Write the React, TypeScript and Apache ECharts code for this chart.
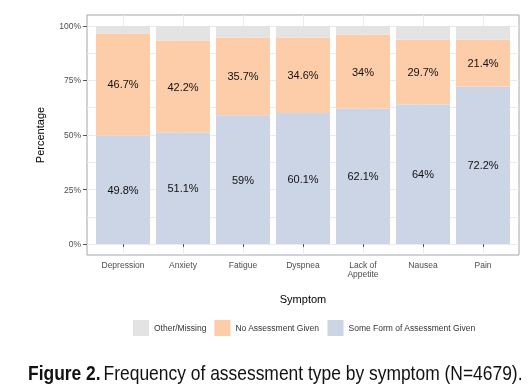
import React, { useEffect, useRef } from "react";
import * as echarts from "echarts";

const categories = ["Depression", "Anxiety", "Fatigue", "Dyspnea", "Lack of\nAppetite", "Nausea", "Pain"];
const someAssessment = [49.8, 51.1, 59, 60.1, 62.1, 64, 72.2];
const noAssessment = [46.7, 42.2, 35.7, 34.6, 34, 29.7, 21.4];
const otherMissing = [3.5, 6.7, 5.3, 5.3, 3.9, 6.3, 6.4];
const yTicks = [0, 0.25, 0.5, 0.75, 1];
const seriesNames = ["Other/Missing", "No Assessment Given", "Some Form of Assessment Given"];

const FONT = "'Liberation Sans', Arial, sans-serif";
const GRID_LINE = "#ebebeb";

export default function App() {
  const ref = useRef<HTMLDivElement>(null);
  useEffect(() => {
    document.body.style.margin = "0";
    const chart = echarts.init(ref.current!, null, { renderer: "svg" });
    const toData = (arr: number[]) => arr.map((v) => v / 100);
    const labelFor = (arr: number[]) => ({
      show: true,
      position: "inside",
      color: "#111",
      fontSize: 11,
      fontFamily: FONT,
      formatter: (p: any) => `${arr[p.dataIndex]}%`,
    });
    // panel: y from -0.05 to 1.05 over 240px starting at top 15
    const panelTop = 15;
    const panelH = 240;
    const unit = panelH / 1.1;
    chart.setOption({
      animation: false,
      grid: [
        { left: 93, top: panelTop, width: 420, height: panelH },
        {
          left: 87,
          top: panelTop,
          width: 432,
          height: panelH,
          show: true,
          borderColor: "#a6a6a6",
          borderWidth: 1,
          backgroundColor: "#fff",
          z: -2,
        },
        { left: 87, top: panelTop + 0.05 * unit, width: 432, height: unit },
        { left: 123, top: panelTop, width: 360, height: panelH },
      ],
      xAxis: [
        {
          type: "category",
          gridIndex: 0,
          data: categories,
          axisLine: { show: false },
          splitLine: { show: false },
          axisTick: { show: true, alignWithLabel: true, length: 3, lineStyle: { color: "#555" } },
          axisLabel: {
            color: "#4d4d4d",
            fontSize: 8.5,
            fontFamily: FONT,
            lineHeight: 9,
            margin: 5,
            interval: 0,
          },
          name: "Symptom",
          nameLocation: "middle",
          nameGap: 38,
          nameTextStyle: { color: "#000", fontSize: 11, fontFamily: FONT },
        },
        { type: "value", gridIndex: 1, min: 0, max: 1, show: false },
        { type: "value", gridIndex: 2, min: 0, max: 1, show: false },
        {
          type: "category",
          gridIndex: 3,
          data: categories,
          boundaryGap: false,
          axisLine: { show: false },
          axisTick: { show: false },
          axisLabel: { show: false },
          splitLine: { show: true, interval: 0, lineStyle: { color: GRID_LINE, width: 1 } },
          z: -1,
        },
      ],
      yAxis: [
        {
          type: "value",
          gridIndex: 0,
          min: -0.05,
          max: 1.05,
          offset: 6,
          axisLine: { show: false },
          splitLine: { show: false },
          axisTick: { show: true, customValues: yTicks, length: 4, lineStyle: { color: "#555" } },
          axisLabel: {
            customValues: yTicks,
            formatter: (v: number) => `${Math.round(v * 100)}%`,
            color: "#4d4d4d",
            fontSize: 8.5,
            fontFamily: FONT,
            margin: 6,
          },
          name: "Percentage",
          nameLocation: "middle",
          nameGap: 42,
          nameTextStyle: { color: "#000", fontSize: 11, fontFamily: FONT },
        },
        { type: "value", gridIndex: 1, min: 0, max: 1, show: false },
        {
          type: "value",
          gridIndex: 2,
          min: 0,
          max: 1,
          interval: 0.125,
          axisLine: { show: false },
          axisTick: { show: false },
          axisLabel: { show: false },
          splitLine: { show: true, lineStyle: { color: GRID_LINE, width: 1 } },
          z: -1,
        },
        { type: "value", gridIndex: 3, min: 0, max: 1, show: false },
      ],
      legend: {
        left: 133,
        top: 320,
        padding: 0,
        icon: "rect",
        itemWidth: 16,
        itemHeight: 16,
        itemGap: 8,
        data: seriesNames,
        textStyle: { color: "#333", fontSize: 8.5, fontFamily: FONT },
      },
      series: [
        {
          name: seriesNames[2],
          type: "bar",
          stack: "total",
          barWidth: "90%",
          data: toData(someAssessment),
          itemStyle: { color: "#cbd5e5" },
          label: labelFor(someAssessment),
          z: 3,
        },
        {
          name: seriesNames[1],
          type: "bar",
          stack: "total",
          barWidth: "90%",
          data: toData(noAssessment),
          itemStyle: { color: "#fdcca8" },
          label: labelFor(noAssessment),
          z: 3,
        },
        {
          name: seriesNames[0],
          type: "bar",
          stack: "total",
          barWidth: "90%",
          data: toData(otherMissing),
          itemStyle: { color: "#e3e3e3" },
          z: 3,
        },
      ],
      graphic: [
        {
          type: "text",
          x: 28,
          y: 373,
          scaleX: 0.872,
          style: {
            text: "{b|Figure 2.} {n|Frequency of assessment type by symptom (N=4679).}",
            verticalAlign: "middle",
            rich: {
              b: { fontFamily: FONT, fontWeight: "bold", fontSize: 20, fill: "#111" },
              n: { fontFamily: FONT, fontSize: 20, fill: "#111" },
            },
          },
        },
      ],
    });
    return () => chart.dispose();
  }, []);
  return <div ref={ref} style={{ position: "fixed", left: 0, top: 0, width: 528, height: 390 }} />;
}
